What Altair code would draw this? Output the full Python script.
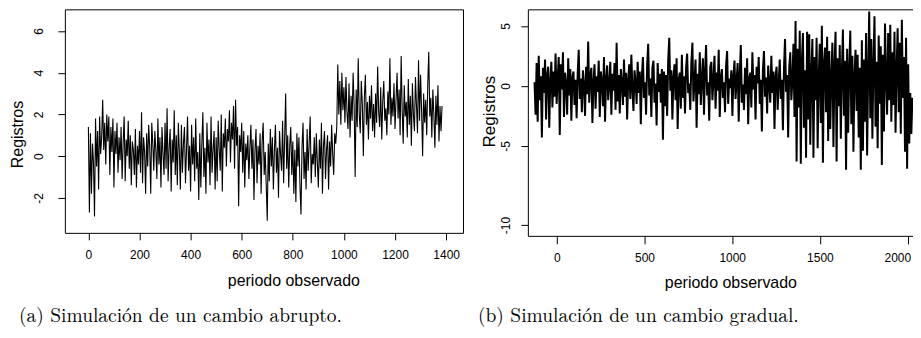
import altair as alt
import pandas as pd

# ---------------- data ----------------
# Panel (a): abrupt change, x = 0, 4, 8, ... 1384
a_start, a_step = 0, 4
a_values = [
    1.4, -2.7, 1.1, -1.8, 0.6, -0.3, -2.9, 1.8, -0.5, 1.2, -1.6, 1.9, 0.1, 0.9, 2.7, 0.3, 1.6, -0.4, 2.0, 0.7, 1.9, -0.9, 1.4, 0.2, 1.8,
    -1.5, 1.2, 0.1, 1.6, -0.8, 0.9, -0.2, 1.4, -1.1, 0.6, 1.9, -1.2, 0.8, 0.0, 1.7, -0.6, 1.0, -1.4, 0.7, 0.3, -0.9, 1.3, -1.5, 0.5, -0.4,
    1.2, -0.8, 2.1, -1.3, 0.9, 0.2, -1.8, 1.1, -0.5, 1.5, 0.4, -1.8, 1.6, 0.6, -0.7, 1.2, 0.3, -1.1, 1.8, -0.4, 0.9, -1.5, 1.4, 0.1, -0.9,
    1.6, -0.6, 2.3, -1.2, 0.4, 1.3, -1.7, 0.8, -0.3, 2.2, -0.9, 1.0, -1.4, 1.6, 0.2, -1.6, 1.5, -0.8, 0.6, 1.4, -1.3, 0.3, 1.9, -0.7, 0.5,
    -1.7, 1.5, -0.4, 0.9, -1.2, 1.8, -0.6, 0.2, -2.1, 1.1, -1.5, 0.6, 2.1, -1.0, 0.4, -1.8, 1.6, -0.3, 0.8, -1.4, 1.9, -0.8, 0.3, 1.2, -1.6,
    0.9, -1.2, 1.7, 0.3, -0.7, 2.0, -1.7, 1.1, 0.4, 1.8, -0.5, 1.3, 0.7, 2.2, -0.3, 1.6, 0.8, 2.4, -0.6, 2.7, 0.5, 1.4, -2.4, 1.0, 0.2,
    1.6, -0.8, 1.2, -1.5, 0.6, -0.2, 1.0, -1.1, 0.4, 1.5, -0.6, 0.8, -2.1, 0.3, 1.3, -1.3, 0.5, -0.4, 1.1, -1.8, 0.7, 1.6, -0.9, 0.2, -1.4,
    -3.1, 0.6, -1.2, 1.3, -0.5, 0.9, -1.6, 0.3, 1.5, -0.8, 0.4, -2.0, 1.2, 0.1, -0.7, 1.7, -1.3, 0.8, 3.0, -0.6, 1.0, -1.5, 0.5, 1.4, -0.9,
    0.7, -1.8, 0.3, -2.2, 1.1, -0.5, 0.9, -1.4, -2.8, 0.4, 1.6, -1.1, 0.2, -1.6, 1.3, -0.7, 0.6, 1.9, -1.3, 0.1, -0.4, 0.9, -1.0, 1.1, -0.3,
    -1.5, 0.8, -0.6, 1.6, -1.8, 0.5, 1.2, -1.1, 0.3, 1.0, -1.6, 0.7, -0.5, 1.5, 0.1, -0.9, 1.1, 0.6, 1.4, 4.4, 2.0, 3.6, 1.5, 4.0, 2.2,
    3.3, 1.6, 3.8, 2.1, 1.3, 3.5, 0.9, 2.9, 1.7, 4.0, 2.4, -1.0, 3.2, 1.4, 4.7, 2.0, 1.1, 3.6, 2.5, 0.0, 2.8, 3.9, 1.5, 2.6, 0.8,
    2.9, 1.8, 3.4, 1.2, 2.5, 0.9, 3.0, 1.6, 4.3, 2.1, 1.4, 3.3, 0.8, 2.6, 3.6, 1.7, 2.3, 1.0, 3.1, 2.0, 4.7, 1.5, 2.8, 1.9, 3.5,
    1.3, 2.7, 4.0, 1.8, 3.2, 1.0, 4.8, 2.2, 0.6, 3.4, 1.9, 2.6, 0.9, 3.7, 1.5, 2.9, 0.5, 3.5, 2.0, 1.2, 3.8, 2.4, 1.1, 4.6, 1.7,
    3.9, 2.2, 0.0, 3.0, 1.6, 2.7, 1.0, 3.4, 5.0, 1.9, 2.8, 0.9, 3.2, 2.0, 0.4, 2.9, 1.5, 3.4, 0.7, 2.4, 1.2, 2.4,
]

# Panel (b): gradual change, x = -127, -121, ... 2027
b_start, b_step = -127, 6
b_values = [
    0.3, -2.4, 1.9, -3.0, 2.5, -1.2, 0.8, -4.3, 1.5, -0.6, 2.2, -2.8, 0.9, 1.6, -3.5, 0.4, 2.0, -1.8, 1.2, -0.9,
    2.7, -1.5, 0.6, 2.4, -4.1, 1.8, -0.3, 2.8, -2.6, 1.1, 0.2, -2.4, 2.3, -0.8, 1.4, -2.9, 0.7, 1.2, -1.6, 0.5,
    -2.7, 1.0, 3.0, -1.1, 0.6, -2.2, 1.3, 0.1, -2.5, 1.6, -0.7, 3.7, -1.4, 0.9, 1.5, -3.1, 0.3, 1.8, -1.9, 0.8,
    -0.5, 2.1, -2.6, 1.2, 0.4, -1.7, 2.4, -3.0, 0.6, 1.7, -1.2, 0.2, 2.0, -2.4, 1.0, -0.4, 1.9, -2.0, 3.6, -1.3,
    0.9, -2.3, 1.4, 0.3, -1.6, 2.2, -0.9, 1.1, -2.8, 0.5, 1.8, -1.1, 2.6, -0.3, -2.1, 1.3, 0.4, -1.5, 2.0, -0.6,
    1.2, -3.2, 0.8, 2.4, -1.0, 0.3, -2.4, 1.7, 3.5, -0.8, 0.6, -2.6, 1.5, 2.1, -1.4, 0.2, -3.3, 1.9, -0.5, 1.0,
    -1.4, 1.4, -4.5, 1.2, -1.7, 0.9, -2.5, 2.1, 4.0, -0.4, 1.3, -2.8, 0.7, 1.8, -1.2, 2.3, -3.6, 0.5, 1.1, -1.9,
    2.6, -1.0, 0.8, -2.3, 1.5, 2.7, -0.6, 0.2, -2.0, 1.9, 3.6, -1.3, 0.4, 2.2, -3.5, 1.0, -0.7, 2.8, -1.6, 0.6,
    2.3, -2.4, 1.2, 3.4, -0.8, 0.3, -2.9, 1.6, 2.0, -1.2, 0.5, 2.5, -1.9, 1.1, -0.4, 3.0, -2.6, 0.7, 1.4, -1.0,
    0.3, -2.2, 1.7, 2.9, -1.5, 0.6, -0.2, 1.3, -2.5, 0.8, 2.1, -1.1, 0.4, 1.9, -3.0, 0.9, 3.4, -1.4, 0.1, -2.0,
    1.5, -0.7, 2.3, -3.2, 0.6, 1.1, -1.8, 2.8, -0.3, 0.9, -2.8, 1.6, 0.2, 2.4, -1.5, 0.5, -3.8, 1.3, 2.9, -0.9,
    0.7, -2.3, 1.7, 0.1, -1.4, 2.5, -0.6, 1.2, -3.6, 0.8, 1.6, -2.0, 0.3, 2.2, -1.1, 0.5, -3.7, 1.4, 3.9, -0.5,
    0.9, -4.3, 1.5, 2.8, -1.2, 0.4, 3.5, -2.6, 5.4, -6.3, 3.1, -1.8, 4.6, -6.5, 2.0, 4.4, -3.5, 1.3, -6.0, 4.5,
    -2.8, 4.3, -4.9, 1.1, 3.9, -6.0, 2.4, -1.2, 4.0, -5.2, 0.7, 3.5, -3.1, 5.0, -6.4, 1.9, 3.2, -2.2, 4.1, -4.6,
    2.9, -3.6, 0.8, 3.6, -5.1, 1.7, 4.5, -6.3, 2.3, -1.7, 3.4, -4.4, 1.0, 4.7, -2.5, 2.1, -7.0, 3.1, -3.9, 1.4,
    4.6, -3.2, 2.5, -5.5, 0.9, 3.0, -2.1, 2.6, -4.3, 1.5, -7.0, 3.8, -5.4, 2.2, -3.0, 4.4, -5.8, 1.2, 6.2, -2.7,
    3.9, -4.4, 1.7, 5.8, -3.4, 2.0, -5.2, 4.2, -1.5, 3.3, -6.6, 2.6, -3.8, 5.2, 0.6, -2.4, 4.4, -1.2, 5.1, -3.0,
    2.8, -1.6, 4.5, -3.9, 1.3, 4.8, -2.2, 3.6, -4.0, 5.5, -1.0, 2.4, -5.5, 4.0, -6.9, 1.8, -4.8, -0.6, -4.0, -1.0,
]

a_x_ticks = [0, 200, 400, 600, 800, 1000, 1200, 1400]
a_y_ticks = [-2, 0, 2, 4, 6]
b_x_ticks = [0, 500, 1000, 1500, 2000]
b_y_ticks = [5, 0, -5, -11.6]          # the "-10" tick sits lower in the original picture

x_title = "periodo observado"
y_title = "Registros"
caption_a = "(a) Simulación de un cambio abrupto."
caption_b = "(b) Simulación de un cambio gradual."

# ---------------- chart ----------------
SANS = "Liberation Sans, Arial, Helvetica, sans-serif"
SERIF = "Latin Modern Roman, CMU Serif, Liberation Serif, serif"

dfa = pd.DataFrame({"x": [a_start + i * a_step for i in range(len(a_values))], "y": a_values})
dfb = pd.DataFrame({"x": [b_start + i * b_step for i in range(len(b_values))], "y": b_values})


def axis_common(**kw):
    base = dict(grid=False, domain=False, tickColor="black", tickWidth=1,
                labelColor="black", labelFont=SANS, titleFont=SANS,
                titleColor="black", titleFontWeight="normal",
                labelOverlap=False, labelFlush=False)
    base.update(kw)
    return alt.Axis(**base)


label_expr_a = "'' + datum.value"
label_expr_b = "datum.value < -10 ? '-10' : '' + datum.value"

chart_a = alt.Chart(dfa).mark_line(color="black", strokeWidth=1.1, clip=True).encode(
    x=alt.X("x:Q", scale=alt.Scale(domain=[-92, 1466], nice=False, zero=False),
            axis=axis_common(values=a_x_ticks, title=x_title, tickSize=7, labelPadding=10,
                             labelFontSize=12, labelExpr=label_expr_a,
                             titleFontSize=16, titleX=229, titleY=48, titleBaseline="middle")),
    y=alt.Y("y:Q", scale=alt.Scale(domain=[-3.68, 7.04], nice=False, zero=False),
            axis=axis_common(values=a_y_ticks, title=y_title, tickSize=7, labelPadding=12,
                             labelFontSize=12, labelAngle=-90, labelAlign="center",
                             labelBaseline="bottom", labelExpr=label_expr_a,
                             titleFontSize=16, titleAngle=-90, titleX=-47, titleY=125,
                             titleAlign="center", titleBaseline="middle")),
).properties(
    width=399, height=224,
    title=alt.TitleParams(caption_a, orient="bottom", anchor="start", frame="group",
                          font=SERIF, fontSize=19.5, fontWeight="normal", color="black",
                          dx=-46, offset=18),
)

chart_b = alt.Chart(dfb).mark_line(color="black", strokeWidth=2, clip=True).encode(
    x=alt.X("x:Q", scale=alt.Scale(domain=[-165, 2150], nice=False, zero=False),
            axis=axis_common(values=b_x_ticks, title=x_title, tickSize=8, labelPadding=9,
                             labelFontSize=12, labelExpr=label_expr_a,
                             labelFlush=27.5, labelFlushOffset=3,
                             titleFontSize=16, titleX=203, titleY=47, titleBaseline="middle")),
    y=alt.Y("y:Q", scale=alt.Scale(domain=[-12.5, 6.375], nice=False, zero=False),
            axis=axis_common(values=b_y_ticks, title=y_title, tickSize=7, labelPadding=8,
                             labelFontSize=12, labelAngle=-90, labelAlign="center",
                             labelBaseline="bottom", labelExpr=label_expr_b,
                             titleFontSize=17, titleAngle=-90, titleX=-38, titleY=102,
                             titleAlign="center", titleBaseline="middle")),
).properties(
    width=407, height=227,
    title=alt.TitleParams(caption_b, orient="bottom", anchor="start", frame="group",
                          font=SERIF, fontSize=19.5, fontWeight="normal", color="black",
                          dx=-50, offset=16),
)

chart = alt.hconcat(chart_a, chart_b, spacing=65, bounds="flush").properties(
    padding={"left": 1, "top": 0, "right": -22, "bottom": 2},
    background="white",
).configure_view(stroke="black", strokeWidth=1)

chart.save("out.html", embed_options={"renderer": "svg", "actions": False})
